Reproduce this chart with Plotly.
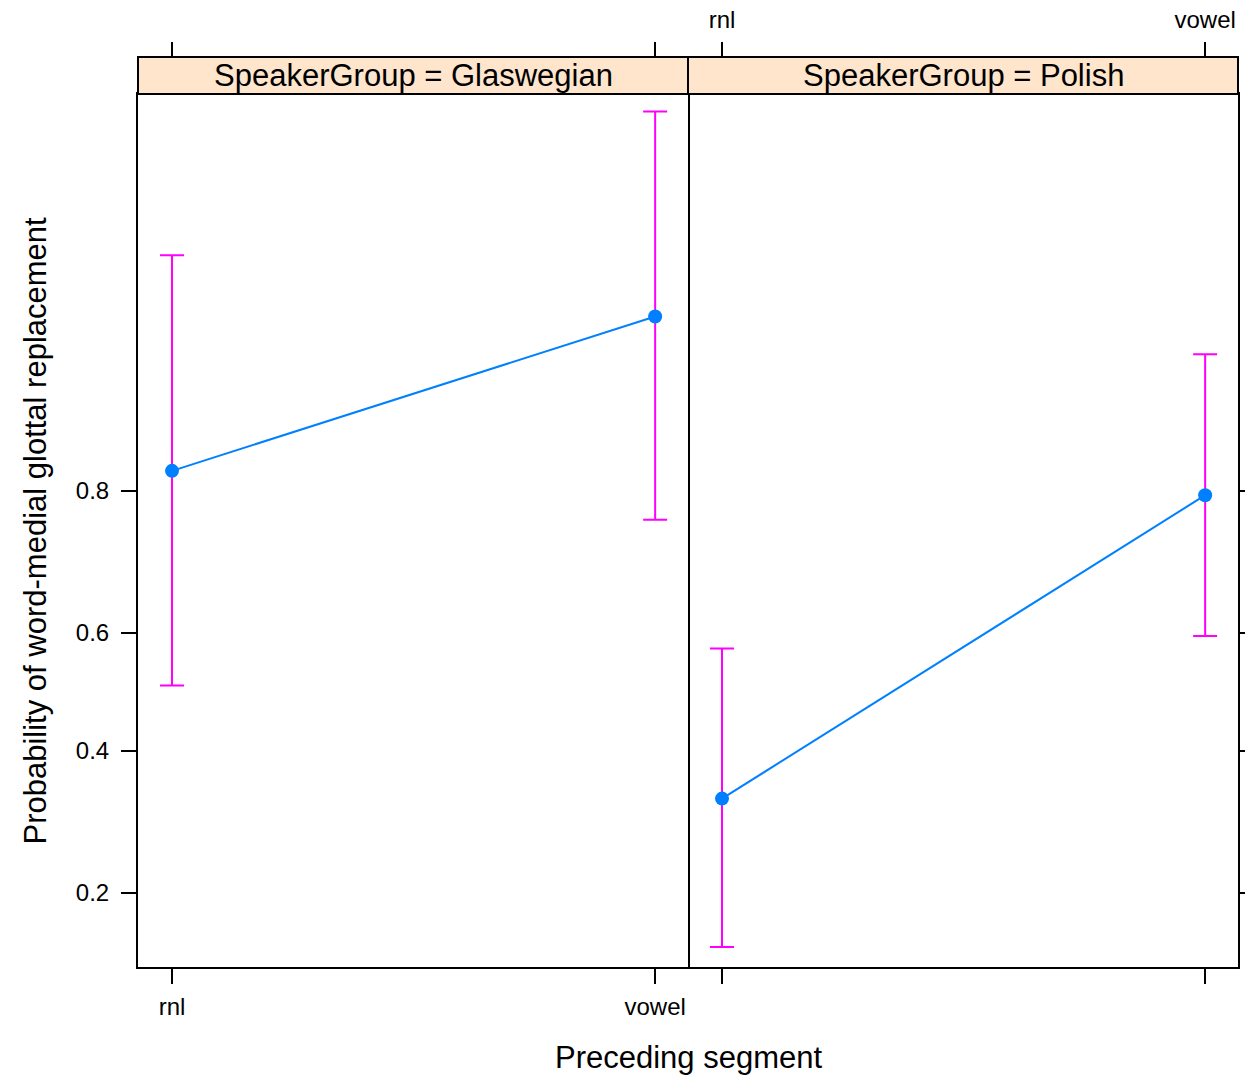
import numpy as np
import plotly.graph_objects as go

# ---- data (probabilities) ----
segments = ["rnl", "vowel"]
groups = ["Glaswegian", "Polish"]
fit_glaswegian = [0.821, 0.930]
lower_glaswegian = [0.511, 0.766]
upper_glaswegian = [0.953, 0.982]
fit_polish = [0.324, 0.795]
lower_polish = [0.147, 0.595]
upper_polish = [0.574, 0.911]
y_ticks = [0.2, 0.4, 0.6, 0.8]


def logit(p):
    p = np.asarray(p, dtype=float)
    return np.log(p / (1 - p))


W, H = 1245, 1075
FONT = "Liberation Sans, Arial, Helvetica, sans-serif"
BLUE = "#0080FF"
MAGENTA = "#FF00FF"

# panel geometry (pixels)
px_left, px_mid, px_right = 138, 688, 1238
py_top, py_bot = 94, 967
strip_top = 57


def fx(px):
    return px / W


def fy(py):
    return (H - py) / H


fig = go.Figure()

series = [
    (fit_glaswegian, lower_glaswegian, upper_glaswegian, "x", "y"),
    (fit_polish, lower_polish, upper_polish, "x2", "y2"),
]
for fit, lo, hi, xa, ya in series:
    lf, ll, lh = logit(fit), logit(lo), logit(hi)
    fig.add_trace(go.Scatter(
        x=segments, y=lf, xaxis=xa, yaxis=ya, mode="lines+markers",
        line=dict(color=BLUE, width=2),
        marker=dict(color=BLUE, size=14),
        error_y=dict(type="data", symmetric=False, array=lh - lf,
                     arrayminus=lf - ll, color=MAGENTA, thickness=2, width=12),
        showlegend=False, hoverinfo="skip",
    ))

# invisible traces for top axes
fig.add_trace(go.Scatter(x=segments, y=[None, None], xaxis="x3", yaxis="y",
                         mode="markers", showlegend=False, hoverinfo="skip"))
fig.add_trace(go.Scatter(x=segments, y=[None, None], xaxis="x4", yaxis="y2",
                         mode="markers", showlegend=False, hoverinfo="skip"))

xr = [-0.0704, 1.068]
yr = [-1.896, 4.120]
ydom = [fy(py_bot), fy(py_top)]
tickfont = dict(family=FONT, size=24, color="black")

common_x = dict(type="category", range=xr, ticks="outside", ticklen=15,
                tickwidth=2, tickcolor="black", tickfont=tickfont,
                showgrid=False, zeroline=False, fixedrange=True)

fig.update_layout(
    width=W, height=H, autosize=False, margin=dict(l=0, r=0, t=0, b=0),
    paper_bgcolor="white", plot_bgcolor="white",
    font=dict(family=FONT, color="black"),
    xaxis=dict(domain=[fx(px_left), fx(px_mid)], anchor="y",
               showline=True, linecolor="black", linewidth=2, mirror=True,
               ticklabelstandoff=2, **common_x),
    xaxis2=dict(domain=[fx(px_mid), fx(px_right)], anchor="y2",
                showline=True, linecolor="black", linewidth=2, mirror=True,
                showticklabels=False, **common_x),
    xaxis3=dict(domain=[fx(px_left), fx(px_mid)], overlaying="x", side="top",
                anchor="free", position=fy(strip_top), showline=False,
                showticklabels=False, **common_x),
    xaxis4=dict(domain=[fx(px_mid), fx(px_right)], overlaying="x2", side="top",
                anchor="free", position=fy(strip_top), showline=False,
                showticklabels=True, ticklabelstandoff=4, **common_x),
    yaxis=dict(domain=ydom, anchor="x", range=yr,
               tickvals=logit(y_ticks), ticktext=[f"{t:.1f}" for t in y_ticks],
               ticks="outside", ticklen=15, tickwidth=2, tickcolor="black",
               tickfont=tickfont, ticklabelstandoff=7,
               showline=True, linecolor="black", linewidth=2, mirror=True,
               showgrid=False, zeroline=False, fixedrange=True),
    yaxis2=dict(domain=ydom, anchor="x2", range=yr, side="right",
                tickvals=logit(y_ticks), showticklabels=False,
                ticks="outside", ticklen=7, tickwidth=2, tickcolor="black",
                showline=True, linecolor="black", linewidth=2, mirror=False,
                showgrid=False, zeroline=False, fixedrange=True),
)

# strips
for (x0, x1), g in zip([(px_left, px_mid), (px_mid, px_right)], groups):
    fig.add_shape(type="rect", xref="paper", yref="paper",
                  x0=fx(x0), x1=fx(x1), y0=fy(py_top), y1=fy(strip_top),
                  fillcolor="#FFE5CC", line=dict(color="black", width=2),
                  layer="above")
    fig.add_annotation(xref="paper", yref="paper", x=fx((x0 + x1) / 2),
                       y=fy((py_top + strip_top) / 2), text=f"SpeakerGroup = {g}",
                       showarrow=False, xanchor="center", yanchor="middle",
                       font=dict(family=FONT, size=31, color="black"))

# axis titles
fig.add_annotation(xref="paper", yref="paper", x=fx((px_left + px_right) / 2),
                   y=fy(1057), text="Preceding segment", showarrow=False,
                   xanchor="center", yanchor="middle",
                   font=dict(family=FONT, size=31, color="black"))
fig.add_annotation(xref="paper", yref="paper", x=fx(35),
                   y=fy((py_top + py_bot) / 2),
                   text="Probability of word-medial glottal replacement",
                   showarrow=False, textangle=-90, xanchor="center", yanchor="middle",
                   font=dict(family=FONT, size=31, color="black"))

fig.write_html("out.html",
               config={"responsive": False, "displayModeBar": False},
               post_script="document.body.style.margin='0';"
                           "document.body.style.overflow='hidden';")
